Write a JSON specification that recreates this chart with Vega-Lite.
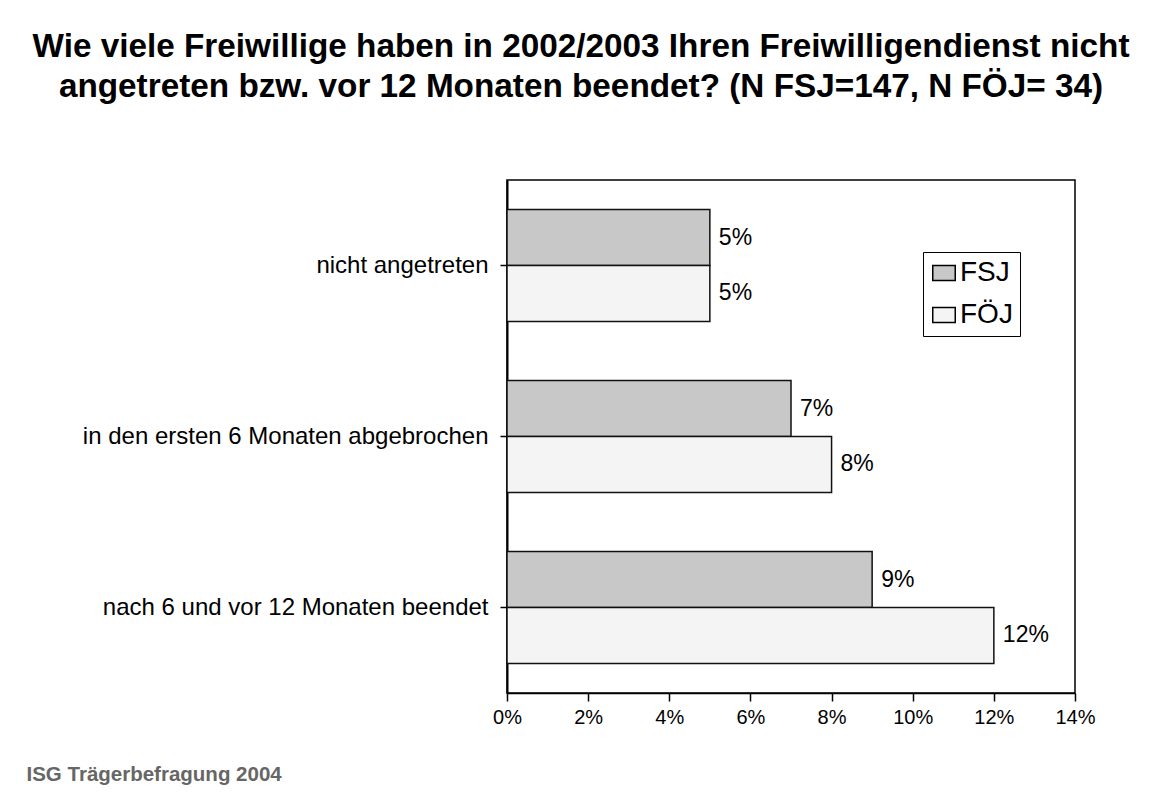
{
  "$schema": "https://vega.github.io/schema/vega-lite/v6.json",
  "width": 568,
  "height": 513,
  "autosize": "none",
  "padding": {"left": 507, "top": 180, "right": 88, "bottom": 104},
  "background": "white",
  "title": {
    "text": ["Wie viele Freiwillige haben in 2002/2003 Ihren Freiwilligendienst nicht", "angetreten bzw. vor 12 Monaten beendet? (N FSJ=147, N FÖJ= 34)"],
    "anchor": "middle",
    "dx": -210,
    "offset": 76,
    "fontSize": 33.3,
    "font": "Liberation Sans",
    "fontWeight": "bold",
    "color": "black",
    "lineHeight": 40
  },
  "data": {
    "values": [
      {"Kategorie": "nicht angetreten", "Gruppe": "FSJ", "Anteil": 0.05},
      {"Kategorie": "nicht angetreten", "Gruppe": "FÖJ", "Anteil": 0.05},
      {"Kategorie": "in den ersten 6 Monaten abgebrochen", "Gruppe": "FSJ", "Anteil": 0.07},
      {"Kategorie": "in den ersten 6 Monaten abgebrochen", "Gruppe": "FÖJ", "Anteil": 0.08},
      {"Kategorie": "nach 6 und vor 12 Monaten beendet", "Gruppe": "FSJ", "Anteil": 0.09},
      {"Kategorie": "nach 6 und vor 12 Monaten beendet", "Gruppe": "FÖJ", "Anteil": 0.12}
    ]
  },
  "encoding": {
    "y": {
      "field": "Kategorie",
      "type": "nominal",
      "sort": ["nicht angetreten", "in den ersten 6 Monaten abgebrochen", "nach 6 und vor 12 Monaten beendet"],
      "scale": {"paddingInner": 0, "paddingOuter": 0},
      "axis": {
        "title": null,
        "labelFontSize": 24,
        "labelFont": "Liberation Sans",
        "labelColor": "black",
        "labelLimit": 500,
        "tickSize": 7,
        "tickColor": "black",
        "tickWidth": 1.5,
        "domainColor": "black",
        "domainWidth": 2,
        "labelPadding": 12
      }
    },
    "yOffset": {
      "field": "Gruppe",
      "type": "nominal",
      "sort": ["FSJ", "FÖJ"],
      "scale": {"paddingInner": 0, "paddingOuter": 0.527}
    },
    "x": {
      "field": "Anteil",
      "type": "quantitative",
      "scale": {"domain": [0, 0.14], "nice": false},
      "axis": {
        "values": [0, 0.02, 0.04, 0.06, 0.08, 0.1, 0.12, 0.14],
        "format": ".0%",
        "grid": false,
        "labelFlush": false,
        "labelFontSize": 20,
        "labelFont": "Liberation Sans",
        "labelColor": "black",
        "labelPadding": 6,
        "tickSize": 8,
        "tickColor": "black",
        "tickWidth": 1.5,
        "domainColor": "black",
        "domainWidth": 1.5,
        "title": "ISG Trägerbefragung 2004",
        "titleX": -481,
        "titleY": 87,
        "titleAlign": "left",
        "titleBaseline": "alphabetic",
        "titleFontSize": 20.5,
        "titleFont": "Liberation Sans",
        "titleFontWeight": "bold",
        "titleColor": "#666666"
      }
    }
  },
  "layer": [
    {
      "mark": {"type": "bar", "stroke": "#111111", "strokeWidth": 1.5},
      "encoding": {
        "fill": {
          "field": "Gruppe",
          "type": "nominal",
          "scale": {"domain": ["FSJ", "FÖJ"], "range": ["#c8c8c8", "#f4f4f4"]},
          "legend": {
            "title": null,
            "orient": "none",
            "legendX": 416,
            "legendY": 72,
            "strokeColor": "black",
            "padding": 7,
            "symbolType": "M-1.5,-1H1.5V1H-1.5Z",
            "symbolSize": 225,
            "symbolStrokeColor": "black",
            "symbolStrokeWidth": 1.5,
            "symbolOpacity": 1,
            "labelFontSize": 28,
            "labelFont": "Liberation Sans",
            "labelColor": "black",
            "rowPadding": 14,
            "labelOffset": 2
          }
        }
      }
    },
    {
      "mark": {"type": "text", "align": "left", "baseline": "middle", "dx": 9, "fontSize": 23, "font": "Liberation Sans", "color": "black"},
      "encoding": {
        "text": {"field": "Anteil", "type": "quantitative", "format": ".0%"}
      }
    }
  ],
  "config": {
    "view": {"stroke": "black", "strokeWidth": 1.5}
  }
}
